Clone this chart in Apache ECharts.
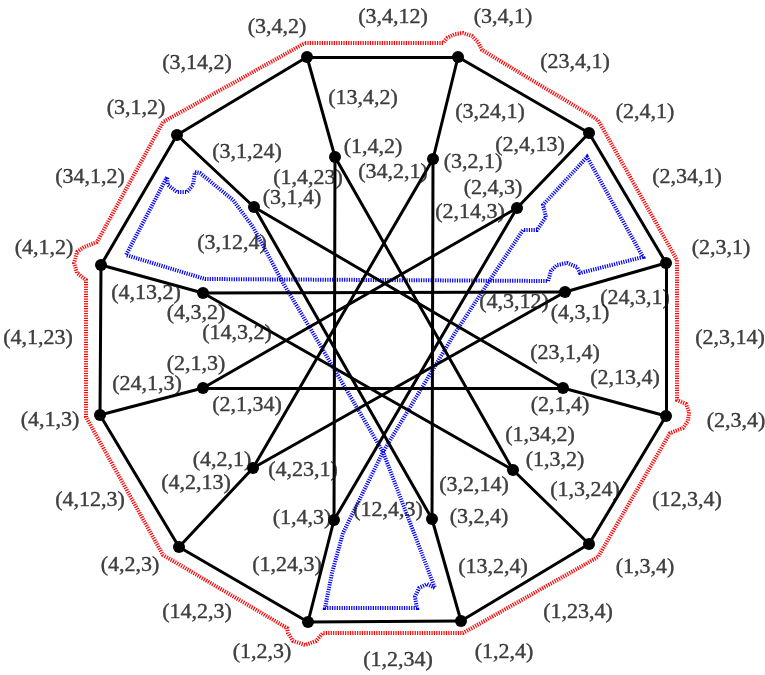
<!DOCTYPE html>
<html>
<head>
<meta charset="utf-8">
<script src="https://cdn.jsdelivr.net/npm/echarts@6/dist/echarts.min.js"></script>
<style>
html,body{margin:0;padding:0;background:#fff;}
#chart{width:765px;height:675px;}
</style>
</head>
<body>
<div id="chart"></div>
<script>
// ---- vertices (12 outer dodecagon, 12 inner star) ----
const vertexNames = [
  '(3,4,2)','(3,4,1)','(2,4,1)','(2,3,1)','(2,3,4)','(1,3,4)',
  '(1,2,4)','(1,2,3)','(4,2,3)','(4,1,3)','(4,1,2)','(3,1,2)',
  '(1,4,2)','(3,2,1)','(2,4,3)','(4,3,1)','(2,1,4)','(1,3,2)',
  '(3,2,4)','(1,4,3)','(4,2,1)','(2,1,3)','(4,3,2)','(3,1,4)'
];
const vertexX = [307,458,589,666,666,589,461,308,179,100,101,177,
                 335,433,517,565,563,513,432,334,253,203,203,254];
const vertexY = [57,57,133,263,416,544,621,622,547,415,265,135,
                 157,159,208,292,388,470,519,520,468,388,293,207];

// ---- edges: [from, to] and their labels ----
const edgeFrom = [0,1,2,3,4,5,6,7,8,9,10,11,
                  0,1,2,3,4,5,6,7,8,9,10,11,
                  12,12,13,13,14,14,15,15,16,16,17,18];
const edgeTo   = [1,2,3,4,5,6,7,8,9,10,11,0,
                  12,13,14,15,16,17,18,19,20,21,22,23,
                  19,17,18,20,19,21,22,20,21,23,22,23];
const edgeNames = [
  '(3,4,12)','(23,4,1)','(2,34,1)','(2,3,14)','(12,3,4)','(1,23,4)',
  '(1,2,34)','(14,2,3)','(4,12,3)','(4,1,23)','(34,1,2)','(3,14,2)',
  '(13,4,2)','(3,24,1)','(2,4,13)','(24,3,1)','(2,13,4)','(1,3,24)',
  '(13,2,4)','(1,24,3)','(4,2,13)','(24,1,3)','(4,13,2)','(3,1,24)',
  '(1,4,23)','(1,34,2)','(3,2,14)','(34,2,1)','(12,4,3)','(2,14,3)',
  '(4,3,12)','(4,23,1)','(2,1,34)','(23,1,4)','(14,3,2)','(3,12,4)'
];

// ---- label anchor layout (centres of text) ----
const vertexLabelX = [277,503,645,721,736,645,504,262,130,50,44,136,
                      373,473,493,580,560,555,479,302,222,196,196,292];
const vertexLabelY = [27,17,112,248,421,567,652,652,565,420,248,108,
                      147,162,188,313,405,460,517,518,460,364,313,198];
const edgeLabelX = [393,575,687,730,687,578,398,197,90,38,90,197,
                    363,490,530,635,625,585,493,287,196,147,146,247,
                    308,540,474,393,388,470,514,303,247,565,237,232];
const edgeLabelY = [17,62,177,338,500,612,660,612,500,338,177,63,
                    98,112,145,298,378,490,567,565,483,384,293,152,
                    178,435,485,172,510,212,302,470,405,353,333,243];

// ---- dotted outlines ----
const redPathX = [305,443,447,455,463,472,478,482,598,677,677,686,689,688,683,670,598,463,323,316,305,293,288,287,163,86,86,77,74,77,84,97,163,305];
const redPathY = [43,43,38,34,33,36,42,50,120,260,400,404,412,421,428,433,557,633,633,641,645,641,633,628,555,417,280,273,263,252,247,242,122,43];
const bluePathX = [195,200,233,253,267,283,313,383,435,427,419,415,417,325,332,343,383,455,523,537,546,543,587,643,580,577,567,557,551,548,205,126,167,168,177,187,193,195];
const bluePathY = [172,173,200,227,253,283,333,452,588,584,588,597,608,608,573,533,452,333,230,230,217,205,157,257,273,267,263,265,271,281,279,255,177,185,192,192,185,172];

// ---- build series ----
const pts = (xs, ys) => xs.map((x, i) => [x, ys[i]]);
const edgeData = edgeFrom.map((a, i) => ({
  coords: [[vertexX[a], vertexY[a]], [vertexX[edgeTo[i]], vertexY[edgeTo[i]]]]
}));
const labelData = vertexNames.map((n, i) => ({ name: n, value: [vertexLabelX[i], vertexLabelY[i]] }))
  .concat(edgeNames.map((n, i) => ({ name: n, value: [edgeLabelX[i], edgeLabelY[i]] })));

const chart = echarts.init(document.getElementById('chart'), null, { renderer: 'canvas' });
chart.setOption({
  animation: false,
  backgroundColor: '#ffffff',
  grid: { left: 0, right: 0, top: 0, bottom: 0 },
  xAxis: { type: 'value', min: 0, max: 765, show: false },
  yAxis: { type: 'value', min: 0, max: 675, inverse: true, show: false },
  series: [
    {
      type: 'lines', coordinateSystem: 'cartesian2d', polyline: true, silent: true, z: 1,
      data: [{ coords: pts(redPathX, redPathY) }],
      lineStyle: { color: '#ff0000', width: 4, type: [1.2, 1.2], opacity: 1 }
    },
    {
      type: 'lines', coordinateSystem: 'cartesian2d', polyline: true, silent: true, z: 1,
      data: [{ coords: pts(bluePathX, bluePathY) }],
      lineStyle: { color: '#0000ff', width: 4, type: [1.2, 1.2], opacity: 1 }
    },
    {
      type: 'lines', coordinateSystem: 'cartesian2d', silent: true, z: 2,
      data: edgeData,
      lineStyle: { color: '#000000', width: 3, opacity: 1, cap: 'round' }
    },
    {
      type: 'scatter', silent: true, z: 3,
      data: pts(vertexX, vertexY),
      symbol: 'circle', symbolSize: 12,
      itemStyle: { color: '#000000', opacity: 1 }
    },
    {
      type: 'scatter', silent: true, z: 4,
      data: labelData,
      symbol: 'circle', symbolSize: 1,
      itemStyle: { color: 'rgba(0,0,0,0)' },
      label: {
        show: true, position: 'inside', formatter: '{b}',
        fontFamily: 'Liberation Serif', fontSize: 22, color: '#111111',
        textBorderColor: '#111111', textBorderWidth: 0.4,
        align: 'center', verticalAlign: 'middle'
      }
    }
  ]
});
</script>
</body>
</html>
